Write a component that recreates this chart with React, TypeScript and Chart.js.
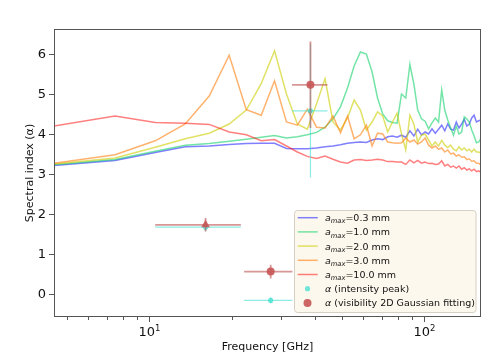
import React, { useEffect, useRef } from 'react';
import { Chart, registerables } from 'chart.js';

Chart.register(...registerables);

// ---------- data ----------
const freqs = [4.5, 7.5, 10.5, 13.5, 16.5, 19.5, 22.5, 25.5, 28.5, 31.5, 34.5, 37.5, 40.5, 43.5, 46.5, 49.5, 52.5, 55.5, 58.5, 61.5, 64.5, 67.5, 70.5, 73.5, 76.5, 79.5, 82.5, 85.5, 88.5, 91.5, 94.5, 97.5, 100.5, 103.5, 106.5, 109.5, 112.5, 115.5, 118.5, 121.5, 124.5, 127.5, 130.5, 133.5, 136.5, 139.5, 142.5, 145.5, 148.5, 151.5, 154.5, 157.5, 160.5];

const amax03 = [3.21, 3.34, 3.54, 3.68, 3.70, 3.74, 3.76, 3.77, 3.77, 3.64, 3.63, 3.63, 3.65, 3.68, 3.70, 3.73, 3.77, 3.79, 3.80, 3.79, 3.85, 3.88, 3.86, 3.93, 3.95, 3.92, 3.97, 3.92, 4.08, 3.95, 4.12, 3.98, 4.05, 4.00, 4.13, 4.02, 4.12, 4.22, 4.08, 4.25, 4.12, 4.10, 4.30, 4.15, 4.25, 4.37, 4.20, 4.25, 4.40, 4.47, 4.30, 4.33, 4.35];
const amax10 = [3.23, 3.36, 3.57, 3.72, 3.76, 3.82, 3.87, 3.92, 3.96, 3.90, 3.93, 3.98, 4.04, 4.17, 4.38, 4.68, 5.15, 5.70, 6.05, 6.00, 5.55, 4.90, 4.50, 4.33, 4.29, 4.27, 5.00, 4.90, 5.74, 5.25, 4.60, 4.38, 4.32, 4.13, 4.28, 4.40, 4.30, 5.10, 4.60, 4.35, 4.15, 3.97, 4.20, 4.00, 4.05, 4.43, 4.38, 4.30, 4.10, 3.95, 3.78, 3.80, 3.90];
const amax20 = [3.25, 3.40, 3.67, 3.88, 4.02, 4.25, 4.60, 5.26, 6.08, 5.00, 4.25, 4.12, 4.75, 5.38, 4.30, 4.10, 4.40, 4.85, 4.60, 4.10, 4.30, 4.55, 4.45, 4.05, 4.30, 4.52, 4.00, 3.60, 4.47, 4.25, 3.80, 3.97, 4.00, 3.85, 3.70, 3.80, 3.70, 3.84, 3.72, 3.66, 3.72, 3.62, 3.58, 3.68, 3.60, 3.65, 3.58, 3.62, 3.55, 3.62, 3.55, 3.55, 3.51];
const amax30 = [3.27, 3.48, 3.83, 4.25, 4.95, 5.97, 4.61, 4.47, 5.33, 4.30, 4.22, 4.62, 4.17, 4.15, 4.45, 4.03, 4.45, 3.88, 3.98, 4.22, 3.70, 4.02, 4.00, 3.80, 3.78, 3.77, 3.78, 3.90, 3.80, 3.85, 3.75, 3.80, 3.90, 3.72, 3.65, 3.70, 3.62, 3.65, 3.55, 3.60, 3.50, 3.52, 3.45, 3.48, 3.42, 3.43, 3.36, 3.38, 3.32, 3.33, 3.27, 3.27, 3.22];
const amax100 = [4.20, 4.45, 4.29, 4.27, 4.24, 4.05, 3.98, 3.83, 3.86, 3.70, 3.55, 3.44, 3.39, 3.45, 3.37, 3.30, 3.27, 3.35, 3.36, 3.34, 3.35, 3.37, 3.35, 3.31, 3.31, 3.30, 3.30, 3.24, 3.35, 3.28, 3.34, 3.27, 3.30, 3.26, 3.27, 3.24, 3.25, 3.33, 3.20, 3.24, 3.17, 3.20, 3.15, 3.20, 3.12, 3.16, 3.10, 3.13, 3.08, 3.12, 3.06, 3.08, 3.04];

const seriesSizes = ['0.3', '1.0', '2.0', '3.0', '10.0'];

const obsFreq = [16.0, 27.6, 38.5];
const obsFreqLo = [10.5, 22.1, 33.0];
const obsFreqHi = [21.5, 33.1, 44.4];
const alphaPeak = [1.67, -0.16, 4.58];
const alphaPeakErr = [0.10, 0.08, 1.67];
const alphaVis = [1.73, 0.56, 5.23];
const alphaVisErr = [0.17, 0.17, 1.08];

const yTicks = [0, 1, 2, 3, 4, 5, 6];
const xMajorTicks = [10, 100];
const xMajorExp = ['1', '2'];
const xMinorTicks = [5, 6, 7, 8, 9, 20, 30, 40, 50, 60, 70, 80, 90];

// ---------- styles ----------
const lineColors = [
  'rgba(0,0,255,0.5)',
  'rgba(0,205,95,0.55)',
  'rgba(205,205,0,0.6)',
  'rgba(255,127,14,0.6)',
  'rgba(255,0,0,0.5)',
];
const peakColor = 'rgba(64,224,208,0.75)';
const peakErrColor = 'rgba(64,224,208,0.6)';
const visColor = 'rgba(200,85,85,0.9)';
const visErrColor = 'rgba(190,80,80,0.6)';
const FONT = '"DejaVu Sans", sans-serif';

const errorBarPlugin = {
  id: 'errorBars',
  beforeDatasetDraw(chart: any, args: any) {
    const ds = chart.data.datasets[args.index];
    if (!ds.errY) return;
    const { ctx, chartArea: a } = chart;
    const xs = chart.scales.x;
    const ys = chart.scales.y;
    ctx.save();
    ctx.beginPath();
    ctx.rect(a.left, a.top, a.right - a.left, a.bottom - a.top);
    ctx.clip();
    ctx.strokeStyle = ds.errColor;
    ctx.lineWidth = ds.errWidth;
    ds.data.forEach((p: any, i: number) => {
      const px = xs.getPixelForValue(p.x);
      const py = ys.getPixelForValue(p.y);
      ctx.beginPath();
      ctx.moveTo(xs.getPixelForValue(ds.errXLo[i]), py);
      ctx.lineTo(xs.getPixelForValue(ds.errXHi[i]), py);
      ctx.moveTo(px, ys.getPixelForValue(p.y - ds.errY[i]));
      ctx.lineTo(px, ys.getPixelForValue(p.y + ds.errY[i]));
      ctx.stroke();
    });
    ctx.restore();
  },
};

function drawMathLabel(ctx: CanvasRenderingContext2D, sym: string, sub: string, rest: string, x: number, y: number) {
  ctx.textAlign = 'left';
  ctx.textBaseline = 'alphabetic';
  ctx.font = `italic 9.5px ${FONT}`;
  ctx.fillText(sym, x, y);
  let cx = x + ctx.measureText(sym).width;
  if (sub) {
    ctx.font = `italic 6.7px ${FONT}`;
    ctx.fillText(sub, cx, y + 2.2);
    cx += ctx.measureText(sub).width;
  }
  ctx.font = `9.5px ${FONT}`;
  ctx.fillText(rest, cx, y);
}

const decorPlugin = {
  id: 'decor',
  afterDraw(chart: any) {
    const { ctx, chartArea: a } = chart;
    const xs = chart.scales.x;
    const ys = chart.scales.y;
    ctx.save();
    // ticks
    ctx.strokeStyle = '#555';
    ctx.lineWidth = 1;
    ctx.beginPath();
    yTicks.forEach((v) => {
      const py = Math.round(ys.getPixelForValue(v)) + 0.5;
      ctx.moveTo(a.left - 5, py);
      ctx.lineTo(a.left, py);
    });
    xMajorTicks.forEach((v) => {
      const px = Math.round(xs.getPixelForValue(v)) + 0.5;
      ctx.moveTo(px, a.bottom);
      ctx.lineTo(px, a.bottom + 5);
    });
    xMinorTicks.forEach((v) => {
      const px = Math.round(xs.getPixelForValue(v)) + 0.5;
      ctx.moveTo(px, a.bottom);
      ctx.lineTo(px, a.bottom + 3);
    });
    ctx.stroke();
    // frame
    ctx.strokeRect(a.left + 0.5, a.top + 0.5, a.right - a.left - 1, a.bottom - a.top - 1);

    // tick labels
    ctx.fillStyle = '#111';
    ctx.font = `13px ${FONT}`;
    ctx.textAlign = 'right';
    ctx.textBaseline = 'middle';
    yTicks.forEach((v) => {
      ctx.fillText(String(v), a.left - 8, ys.getPixelForValue(v) + 0.5);
    });
    ctx.textAlign = 'left';
    ctx.textBaseline = 'alphabetic';
    xMajorTicks.forEach((v, i) => {
      ctx.font = `13px ${FONT}`;
      const w1 = ctx.measureText('10').width;
      ctx.font = `8.5px ${FONT}`;
      const w2 = ctx.measureText(xMajorExp[i]).width;
      const start = xs.getPixelForValue(v) - (w1 + w2) / 2;
      ctx.font = `13px ${FONT}`;
      ctx.fillText('10', start, a.bottom + 19);
      ctx.font = `8.5px ${FONT}`;
      ctx.fillText(xMajorExp[i], start + w1, a.bottom + 13.5);
    });

    // axis titles
    ctx.font = `11px ${FONT}`;
    ctx.textAlign = 'center';
    ctx.fillText('Frequency [GHz]', (a.left + a.right) / 2, a.bottom + 32.5);
    ctx.save();
    ctx.translate(33.3, (a.top + a.bottom) / 2);
    ctx.rotate(-Math.PI / 2);
    ctx.fillText('Spectral index (α)', 0, 0);
    ctx.restore();

    // legend
    const lx = 294.5, ly = 210.5, lw = 181.5, lh = 102;
    ctx.beginPath();
    ctx.roundRect(lx, ly, lw, lh, 3);
    ctx.fillStyle = 'rgba(253,247,234,0.85)';
    ctx.fill();
    ctx.strokeStyle = '#d6d0c4';
    ctx.lineWidth = 1;
    ctx.stroke();
    const rowY = (k: number) => 217.7 + 14.2 * k;
    seriesSizes.forEach((s, k) => {
      const yy = rowY(k);
      ctx.strokeStyle = lineColors[k];
      ctx.lineWidth = 1.5;
      ctx.beginPath();
      ctx.moveTo(297.7, yy);
      ctx.lineTo(317.7, yy);
      ctx.stroke();
      ctx.fillStyle = '#111';
      drawMathLabel(ctx, 'a', 'max', `=${s} mm`, 325, yy + 3.4);
    });
    // markers
    ctx.fillStyle = peakColor;
    ctx.beginPath();
    ctx.arc(307.5, rowY(5), 2.6, 0, Math.PI * 2);
    ctx.fill();
    ctx.fillStyle = visColor;
    ctx.beginPath();
    ctx.arc(307.5, rowY(6), 4, 0, Math.PI * 2);
    ctx.fill();
    ctx.fillStyle = '#111';
    drawMathLabel(ctx, 'α', '', ' (intensity peak)', 325, rowY(5) + 3.4);
    drawMathLabel(ctx, 'α', '', ' (visibility 2D Gaussian fitting)', 325, rowY(6) + 3.4);
    ctx.restore();
  },
};

const seriesValues = [amax03, amax10, amax20, amax30, amax100];

export default function App() {
  const ref = useRef<HTMLCanvasElement>(null);
  useEffect(() => {
    const canvas = ref.current;
    if (!canvas) return;
    const lineSets = seriesValues.map((vals, k) => ({
      type: 'line',
      label: `a_max=${seriesSizes[k]} mm`,
      data: freqs.map((f, i) => ({ x: f, y: vals[i] })),
      borderColor: lineColors[k],
      backgroundColor: lineColors[k],
      borderWidth: 1.5,
      pointRadius: 0,
      tension: 0,
      fill: false,
      order: 10 - k,
    }));
    const peakSet = {
      type: 'line',
      label: 'α (intensity peak)',
      data: obsFreq.map((f, i) => ({ x: f, y: alphaPeak[i] })),
      showLine: false,
      pointRadius: 2.6,
      pointBackgroundColor: peakColor,
      pointBorderWidth: 0,
      borderColor: peakColor,
      errY: alphaPeakErr,
      errXLo: obsFreqLo,
      errXHi: obsFreqHi,
      errColor: peakErrColor,
      errWidth: 1.2,
      order: 2,
    };
    const visSet = {
      type: 'line',
      label: 'α (visibility 2D Gaussian fitting)',
      data: obsFreq.map((f, i) => ({ x: f, y: alphaVis[i] })),
      showLine: false,
      pointRadius: [5, 4, 4],
      pointStyle: ['triangle', 'circle', 'circle'],
      pointBackgroundColor: visColor,
      pointBorderWidth: 0,
      borderColor: visColor,
      errY: alphaVisErr,
      errXLo: obsFreqLo,
      errXHi: obsFreqHi,
      errColor: visErrColor,
      errWidth: 1.8,
      order: 1,
    };
    const chart = new Chart(canvas, {
      type: 'line',
      data: { datasets: [...lineSets, peakSet, visSet] as any },
      options: {
        responsive: false,
        animation: false,
        devicePixelRatio: 1,
        layout: { padding: { left: 54, top: 29, right: 15, bottom: 44 } },
        scales: {
          x: { type: 'logarithmic', min: 4.5, max: 160.5, display: false },
          y: { type: 'linear', min: -0.575, max: 6.625, display: false },
        },
        plugins: { legend: { display: false }, tooltip: { enabled: false } },
      },
      plugins: [errorBarPlugin, decorPlugin],
    } as any);
    return () => chart.destroy();
  }, []);
  return (
    <div style={{ position: 'absolute', left: 0, top: 0, width: 496, height: 361, background: '#fff' }}>
      <canvas ref={ref} width={496} height={361} style={{ display: 'block', width: 496, height: 361 }} />
    </div>
  );
}
